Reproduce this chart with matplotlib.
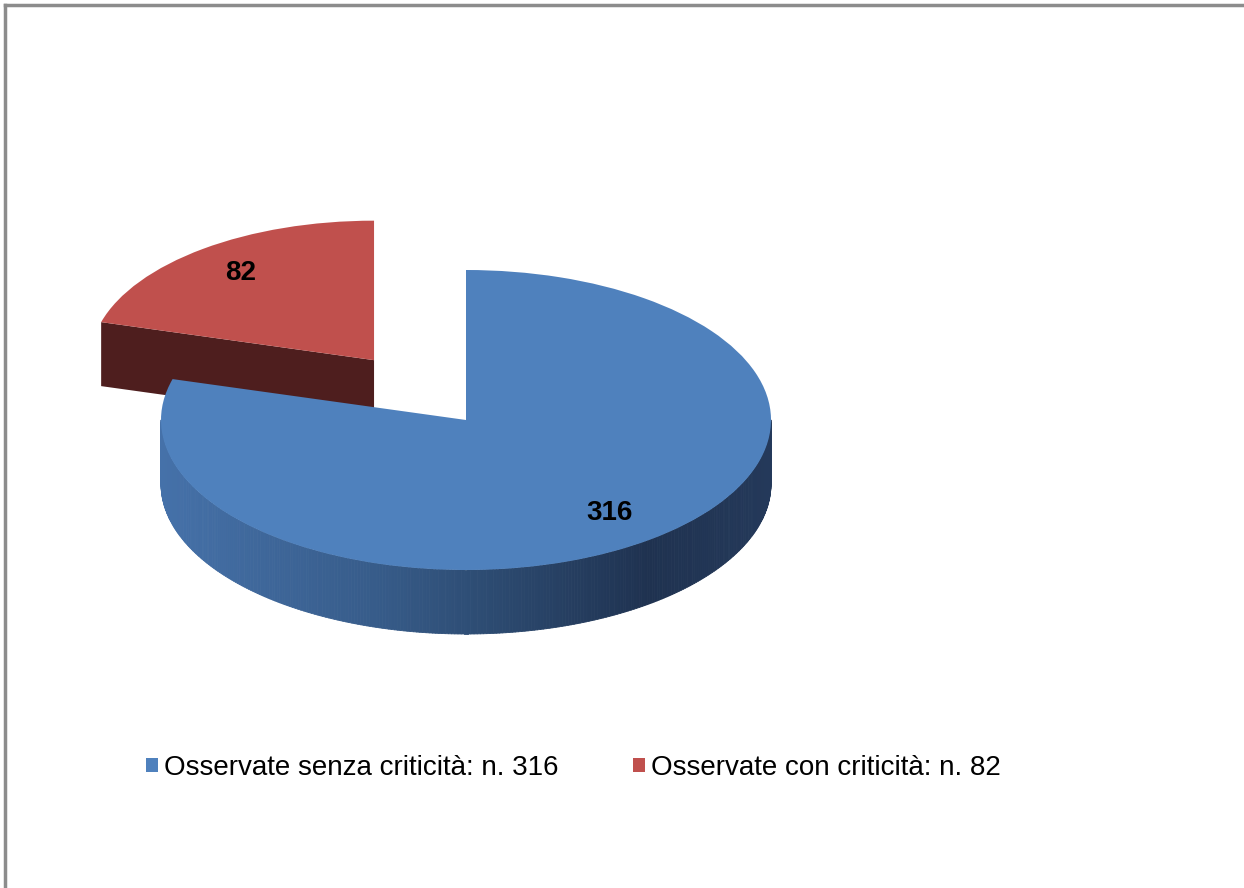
import numpy as np
import matplotlib.pyplot as plt
from matplotlib.patches import Polygon
from matplotlib.collections import PolyCollection
from matplotlib.lines import Line2D
from matplotlib.colors import LinearSegmentedColormap

plt.rcParams['font.family'] = ['Liberation Sans', 'DejaVu Sans']

# dati
categorie = ['Osservate senza criticità', 'Osservate con criticità']
valori = [316, 82]
colori_top = ['#4F81BD', '#C0504D']
colore_faccia_rossa = '#4E1E1E'
esplodi = [0, 0.5]
raggi = [1.0, 0.93]

totale = sum(valori)
etichette = [f"{c}: n. {v}" for c, v in zip(categorie, valori)]

fig = plt.figure(figsize=(12.44, 8.88), dpi=100)
ax = fig.add_axes([0, 0, 1, 1])

# pie "3d": unita' dati = raggio, schiacciata in verticale
rx_px, ry_px = 305, 150
cx_px, cy_px = 466, 420
spessore = 64 / ry_px
dist_etichette = 0.78

wedges, testi, autotesti = ax.pie(
    valori, startangle=90, counterclock=False, explode=esplodi,
    colors=colori_top, wedgeprops=dict(linewidth=0),
    autopct=lambda p: f"{p * totale / 100:.0f}", pctdistance=dist_etichette,
    textprops=dict(fontsize=20, fontweight='bold', color='black'))

# raggio leggermente minore per la fetta rossa (effetto prospettiva)
for w, r, at in zip(wedges, raggi, autotesti):
    w.set_radius(r)
    mid = np.deg2rad((w.theta1 + w.theta2) / 2)
    c = np.array(w.center)
    at.set_position(c + r * dist_etichette * np.array([np.cos(mid), np.sin(mid)]))
    at.set_zorder(6)

# blu sopra a tutto, rosso dietro
wedges[0].set_zorder(4)
wedges[1].set_zorder(2)

# faccia radiale visibile della fetta rossa (bordo a theta2)
w_r = wedges[1]
cr = np.array(w_r.center)
th = np.deg2rad(w_r.theta2)
p_bordo = cr + w_r.r * np.array([np.cos(th), np.sin(th)])
faccia = Polygon([cr, p_bordo, p_bordo - [0, spessore], cr - [0, spessore]],
                 closed=True, facecolor=colore_faccia_rossa, edgecolor='none', zorder=1)
ax.add_patch(faccia)

# bordo laterale della fetta blu (meta' frontale) con sfumatura
cmap_lato = LinearSegmentedColormap.from_list(
    'lato', [(0.0, '#4571A9'), (0.35, '#375C8A'), (0.55, '#2C4A70'),
             (0.8, '#1F3250'), (1.0, '#24395A')])
w_b = wedges[0]
cb = np.array(w_b.center)
t = np.linspace(np.pi, 2 * np.pi, 300)
quads = []
cols = []
for a0, a1 in zip(t[:-1], t[1:]):
    p0 = cb + w_b.r * np.array([np.cos(a0), np.sin(a0)])
    p1 = cb + w_b.r * np.array([np.cos(a1), np.sin(a1)])
    quads.append([p0, p1, p1 - [0, spessore], p0 - [0, spessore]])
    cols.append(cmap_lato((np.cos((a0 + a1) / 2) + 1) / 2))
lato = PolyCollection(quads, facecolors=cols, edgecolors=cols, linewidths=0.6, zorder=3)
ax.add_collection(lato)

ax.set_aspect('auto')
ax.set_xlim(-cx_px / rx_px, (1244 - cx_px) / rx_px)
ax.set_ylim(-(888 - cy_px) / ry_px, cy_px / ry_px)
ax.axis('off')

# legenda
leg = fig.legend(wedges, etichette, ncol=2, loc='center', bbox_to_anchor=(0.461, 0.135),
                 frameon=False, fontsize=20, handlelength=0.42, handleheight=0.42,
                 handletextpad=0.22, columnspacing=2.7)

# cornice (solo alto e sinistra visibili)
fig.add_artist(Line2D([5 / 1244, 5 / 1244], [0, 1 - 5 / 888], color='#8C8C8C', lw=2.5,
                      transform=fig.transFigure))
fig.add_artist(Line2D([5 / 1244, 1], [1 - 5 / 888, 1 - 5 / 888], color='#8C8C8C', lw=2.5,
                      transform=fig.transFigure))

fig.savefig('out.png', dpi=100, facecolor='white')
